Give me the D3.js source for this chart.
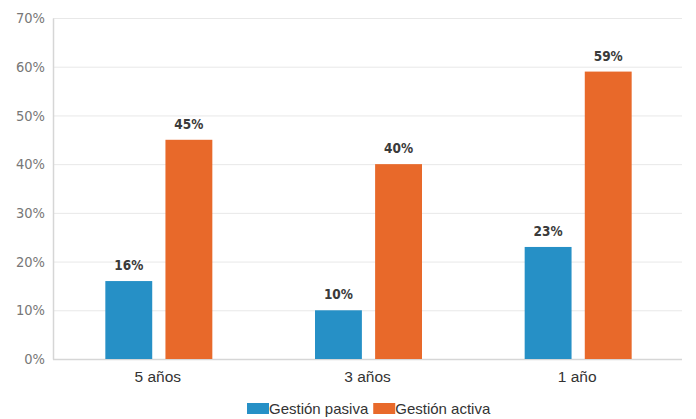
<!DOCTYPE html>
<html><head><meta charset="utf-8">
<script src="https://cdn.jsdelivr.net/npm/d3@7"></script>
<style>
body{margin:0;background:#fff;}
svg{display:block;}
</style></head>
<body>
<svg id="chart" width="696" height="419"></svg>
<script>
const categories = ["5 años", "3 años", "1 año"];
const seriesNames = ["Gestión pasiva", "Gestión activa"];
const pasiva = [16, 10, 23];
const activa = [45, 40, 59];
const yTicks = [0, 10, 20, 30, 40, 50, 60, 70];
const colors = ["#2690c6", "#e8692a"];

const svg = d3.select("#chart");
const margin = {left: 53, right: 14, top: 18, bottom: 60};
const W = 696, H = 419;
const x0 = d3.scaleBand().domain(categories).range([margin.left, W - margin.right]).paddingInner(0).paddingOuter(0);
const y = d3.scaleLinear().domain([0, 70]).range([H - margin.bottom, margin.top]);
const x1 = d3.scaleBand().domain(seriesNames).range([-52.5, 54.5]).paddingInner(0.22).paddingOuter(0);

// gridlines
svg.append("g").selectAll("line").data(yTicks).join("line")
  .attr("x1", margin.left).attr("x2", W - margin.right)
  .attr("y1", d => y(d) + 0.5).attr("y2", d => y(d) + 0.5)
  .attr("stroke", "#e8e8e8").attr("stroke-width", 1);

// y axis
const yAxis = d3.axisLeft(y).tickValues(yTicks).tickFormat(d => d + "%").tickSize(0).tickPadding(8);
const gy = svg.append("g").attr("transform", `translate(${margin.left},0)`).call(yAxis);
gy.select(".domain").attr("stroke", "#d6d6d6").attr("stroke-width", 1.5);
gy.selectAll("text").attr("fill", "#777").style("font-family", "'DejaVu Sans Condensed', 'Liberation Sans Narrow', sans-serif").style("font-size", "14.5px");

// bottom axis line
svg.append("line").attr("x1", margin.left).attr("x2", W - margin.right)
  .attr("y1", y(0) + 0.5).attr("y2", y(0) + 0.5).attr("stroke", "#d6d6d6").attr("stroke-width", 1.5);

// x axis labels
const xAxis = d3.axisBottom(x0).tickSize(0).tickPadding(12);
const gx = svg.append("g").attr("transform", `translate(0,${y(0)})`).call(xAxis);
gx.select(".domain").remove();
gx.selectAll("text").attr("fill", "#333").style("font-family", "'Liberation Sans', Arial, sans-serif").style("font-size", "15.5px");

const data = categories.map((c, i) => ({cat: c, vals: [pasiva[i], activa[i]]}));
const groups = svg.append("g").selectAll("g").data(data).join("g")
  .attr("transform", d => `translate(${x0(d.cat) + x0.bandwidth() / 2},0)`);

groups.selectAll("rect").data(d => d.vals.map((v, j) => ({s: seriesNames[j], v, j}))).join("rect")
  .attr("x", d => x1(d.s)).attr("width", x1.bandwidth())
  .attr("y", d => y(d.v)).attr("height", d => y(0) - y(d.v))
  .attr("fill", d => colors[d.j]);

groups.selectAll("text.val").data(d => d.vals.map((v, j) => ({s: seriesNames[j], v, j}))).join("text")
  .attr("class", "val")
  .attr("x", d => x1(d.s) + x1.bandwidth() / 2).attr("y", d => y(d.v) - 11)
  .attr("text-anchor", "middle").attr("fill", "#3a3a3a")
  .style("font-family", "'DejaVu Sans Condensed', sans-serif").style("font-weight", "bold").style("font-size", "13.5px")
  .text(d => d.v + "%");

// legend
const legend = svg.append("g");
let lx = 247;
seriesNames.forEach((n, i) => {
  legend.append("rect").attr("x", lx).attr("y", 403).attr("width", 22).attr("height", 11).attr("fill", colors[i]);
  const t = legend.append("text").attr("x", lx + 22).attr("y", 414).attr("fill", "#333")
    .style("font-family", "'Liberation Sans', Arial, sans-serif").style("font-size", "15px").text(n);
  lx += 22 + t.node().getComputedTextLength() + 5;
});
</script>
</body></html>
